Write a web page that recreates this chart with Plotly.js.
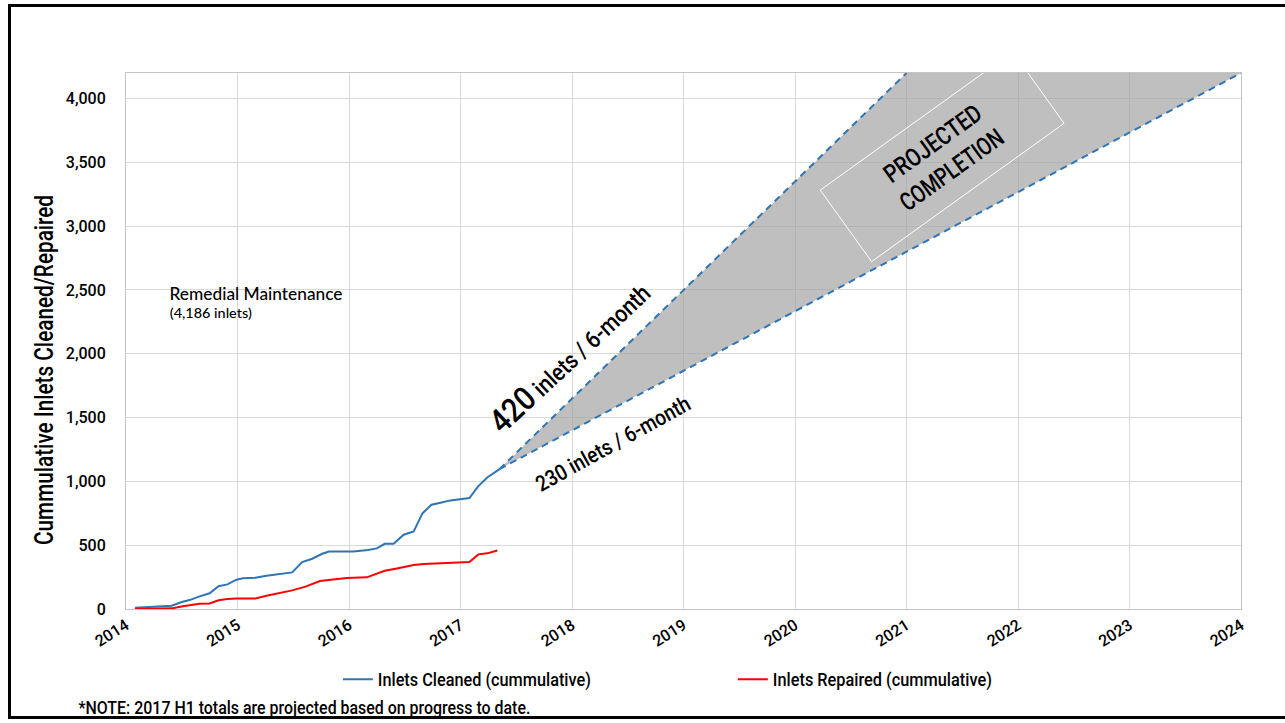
<!DOCTYPE html>
<html>
<head>
<meta charset="utf-8">
<script src="https://cdn.plot.ly/plotly-3.0.1.min.js"></script>
<style>
  html, body { margin: 0; padding: 0; background: #fff; }
  #wrap { position: relative; width: 1285px; height: 723px; overflow: hidden; }
  #chart { width: 1285px; height: 723px; }
  #frame { position: absolute; left: 8px; top: 4px; width: 1290px; height: 715px;
           border: 3px solid #000; pointer-events: none; box-sizing: border-box; }
</style>
</head>
<body>
<div id="wrap">
  <div id="chart"></div>
  <div id="frame"></div>
</div>
<script>
// ---- data ----
const cleanedYears = [2014.08, 2014.41, 2014.50, 2014.57, 2014.66, 2014.75, 2014.83, 2014.91, 2014.99, 2015.05,
  2015.16, 2015.26, 2015.49, 2015.58, 2015.67, 2015.76, 2015.82, 2016.04, 2016.17, 2016.25,
  2016.32, 2016.40, 2016.49, 2016.58, 2016.66, 2016.74, 2016.83, 2016.91, 2017.08, 2017.16,
  2017.24, 2017.35];
const cleanedValues = [10, 26, 55, 70, 99, 123, 178, 193, 230, 240,
  245, 261, 287, 368, 394, 433, 451, 451, 462, 475,
  511, 511, 582, 608, 751, 817, 835, 851, 869, 963,
  1031, 1096];

const repairedYears = [2014.08, 2014.41, 2014.51, 2014.66, 2014.75, 2014.83, 2014.91, 2014.99, 2015.16, 2015.26,
  2015.49, 2015.61, 2015.74, 2015.86, 2015.98, 2016.16, 2016.32, 2016.43, 2016.58, 2016.67,
  2016.82, 2016.91, 2017.08, 2017.16, 2017.24, 2017.33];
const repairedValues = [0, 5, 21, 42, 44, 68, 78, 83, 83, 104,
  146, 175, 219, 232, 243, 248, 300, 318, 344, 352,
  357, 365, 368, 428, 436, 459];

// projection: start point and end points of the two rates
const projStart = {year: 2017.35, value: 1096};
const projFastEnd = {year: 2021, value: 4200};   // 420 inlets / 6-month
const projSlowEnd = {year: 2024, value: 4200};   // 230 inlets / 6-month

const xTickYears = [2014, 2015, 2016, 2017, 2018, 2019, 2020, 2021, 2022, 2023, 2024];
const yTickValues = [0, 500, 1000, 1500, 2000, 2500, 3000, 3500, 4000];

// ---- styles / layout geometry ----
const COND = 'Roboto, "Liberation Sans", sans-serif';
const HUMAN = 'Lato, "Open Sans", sans-serif';
const BLUE = '#2e75b6';
const RED = '#ff0000';
const X0 = 2014, X1 = 2024, Y0 = 0, Y1 = 4200;
const M = {l: 126, r: 44, t: 73, b: 114};
const W = 1285, H = 723;
const pxPerYear = (W - M.l - M.r) / (X1 - X0);
const pxPerUnit = (H - M.t - M.b) / (Y1 - Y0);

function cf(size) { return {family: COND, size: size, color: '#000', weight: 500}; }

// rotated "PROJECTED COMPLETION" frame (decoration), center in data units, size in px
const boxCenter = {year: 2021.32, value: 3544};
const boxHalfLong = 118.5, boxHalfShort = 44, boxAngle = 35.7 * Math.PI / 180;
function boxPath() {
  const L = [Math.cos(boxAngle), Math.sin(boxAngle)];
  const S = [Math.sin(boxAngle), -Math.cos(boxAngle)];
  const pts = [[-1, -1], [1, -1], [1, 1], [-1, 1]].map(([a, b]) => {
    const dx = a * boxHalfLong * L[0] + b * boxHalfShort * S[0];
    const dy = a * boxHalfLong * L[1] + b * boxHalfShort * S[1];
    return [boxCenter.year + dx / pxPerYear, boxCenter.value + dy / pxPerUnit];
  });
  return 'M' + pts.map(p => p[0] + ',' + p[1]).join(' L') + ' Z';
}

const traces = [
  {
    x: [projStart.year, projFastEnd.year, projSlowEnd.year, projStart.year],
    y: [projStart.value, projFastEnd.value, projSlowEnd.value, projStart.value],
    mode: 'lines', fill: 'toself', fillcolor: 'rgba(160,160,160,0.68)',
    line: {width: 0, color: 'rgba(0,0,0,0)'}, showlegend: false, hoverinfo: 'skip'
  },
  {
    x: [projStart.year, projFastEnd.year], y: [projStart.value, projFastEnd.value],
    mode: 'lines', line: {color: BLUE, width: 2, dash: '7px,5px'}, showlegend: false
  },
  {
    x: [projStart.year, projSlowEnd.year], y: [projStart.value, projSlowEnd.value],
    mode: 'lines', line: {color: BLUE, width: 2, dash: '7px,5px'}, showlegend: false
  },
  {
    x: cleanedYears, y: cleanedValues, name: 'Inlets Cleaned (cummulative)',
    mode: 'lines', line: {color: BLUE, width: 2}
  },
  {
    x: repairedYears, y: repairedValues, name: 'Inlets Repaired (cummulative)',
    mode: 'lines', line: {color: RED, width: 2}
  }
];

const layout = {
  width: W, height: H,
  margin: M,
  paper_bgcolor: '#fff', plot_bgcolor: '#fff',
  font: cf(16),
  showlegend: true,
  legend: {
    orientation: 'h', x: 0.19, xanchor: 'left', y: -0.097, yanchor: 'top',
    font: cf(18),
    entrywidth: 350, entrywidthmode: 'pixels', itemwidth: 30
  },
  xaxis: {
    range: [X0, X1], tickvals: xTickYears, ticktext: xTickYears.map(String),
    tickangle: -32, showgrid: true, gridcolor: '#d9d9d9', gridwidth: 1,
    showline: true, linecolor: '#c4c4c4', linewidth: 1, mirror: true,
    zeroline: false, ticks: '', tickfont: cf(16)
  },
  yaxis: {
    range: [Y0, Y1], tickvals: yTickValues, tickformat: ',d',
    showgrid: true, gridcolor: '#d9d9d9', gridwidth: 1,
    showline: true, linecolor: '#c4c4c4', linewidth: 1, mirror: true,
    zeroline: false, ticks: '', ticklabelstandoff: 16,
    tickfont: cf(16)
  },
  shapes: [
    {type: 'path', xref: 'x', yref: 'y', path: boxPath(), line: {color: '#ffffff', width: 1}, layer: 'above'}
  ],
  annotations: [
    {x: 2015.166, y: 2474, xref: 'x', yref: 'y', xanchor: 'center', yanchor: 'middle', showarrow: false,
     text: 'Remedial Maintenance', font: {family: HUMAN, size: 17, color: '#000'}},
    {x: 2014.762, y: 2325, xref: 'x', yref: 'y', xanchor: 'center', yanchor: 'middle', showarrow: false,
     text: '(4,186 inlets)', font: {family: HUMAN, size: 14, color: '#000'}},
    {x: 2017.98, y: 1975, xref: 'x', yref: 'y', showarrow: false, textangle: -43,
     text: '<span style="font-size:33px">420</span> inlets / 6-month', font: cf(24)},
    {x: 2018.37, y: 1297, xref: 'x', yref: 'y', showarrow: false, textangle: -29,
     text: '230 inlets / 6-month', font: cf(22)},
    {x: boxCenter.year, y: boxCenter.value, xref: 'x', yref: 'y', showarrow: false, textangle: -35.7,
     text: 'PROJECTED<br>COMPLETION', font: cf(25), align: 'center'},
    {x: 0.1605, y: -0.183, xref: 'paper', yref: 'paper', xanchor: 'center', yanchor: 'middle', showarrow: false,
     text: '*NOTE: 2017 H1 totals are projected based on progress to date.', font: cf(18)},
    {x: -0.0726, y: 0.446, xref: 'paper', yref: 'paper', xanchor: 'center', yanchor: 'middle', showarrow: false,
     textangle: -90, text: 'Cummulative Inlets Cleaned/Repaired', font: cf(25)}
  ]
};

// target text lengths (px) to mimic the narrow typeface of the original
function fitLen(el, target) {
  if (!el) return;
  el.setAttribute('textLength', target);
  el.setAttribute('lengthAdjust', 'spacingAndGlyphs');
}
function annText(i) { return document.querySelector('.annotation[data-index="' + i + '"] text.annotation-text'); }

Plotly.newPlot('chart', traces, layout, {displayModeBar: false, staticPlot: true}).then(() => {
  fitLen(annText(0), 173);
  fitLen(annText(1), 82);
  fitLen(annText(2), 205);
  fitLen(annText(3), 173);
  const pc = annText(4);
  if (pc) {
    const lines = pc.querySelectorAll('tspan.line');
    if (lines.length === 2) { fitLen(lines[0], 114); fitLen(lines[1], 121); }
  }
  fitLen(annText(5), 452);
  fitLen(annText(6), 350);
  const lt = document.querySelectorAll('.legendtext');
  if (lt[0]) fitLen(lt[0], 213);
  if (lt[1]) fitLen(lt[1], 219);
});
</script>
</body>
</html>
